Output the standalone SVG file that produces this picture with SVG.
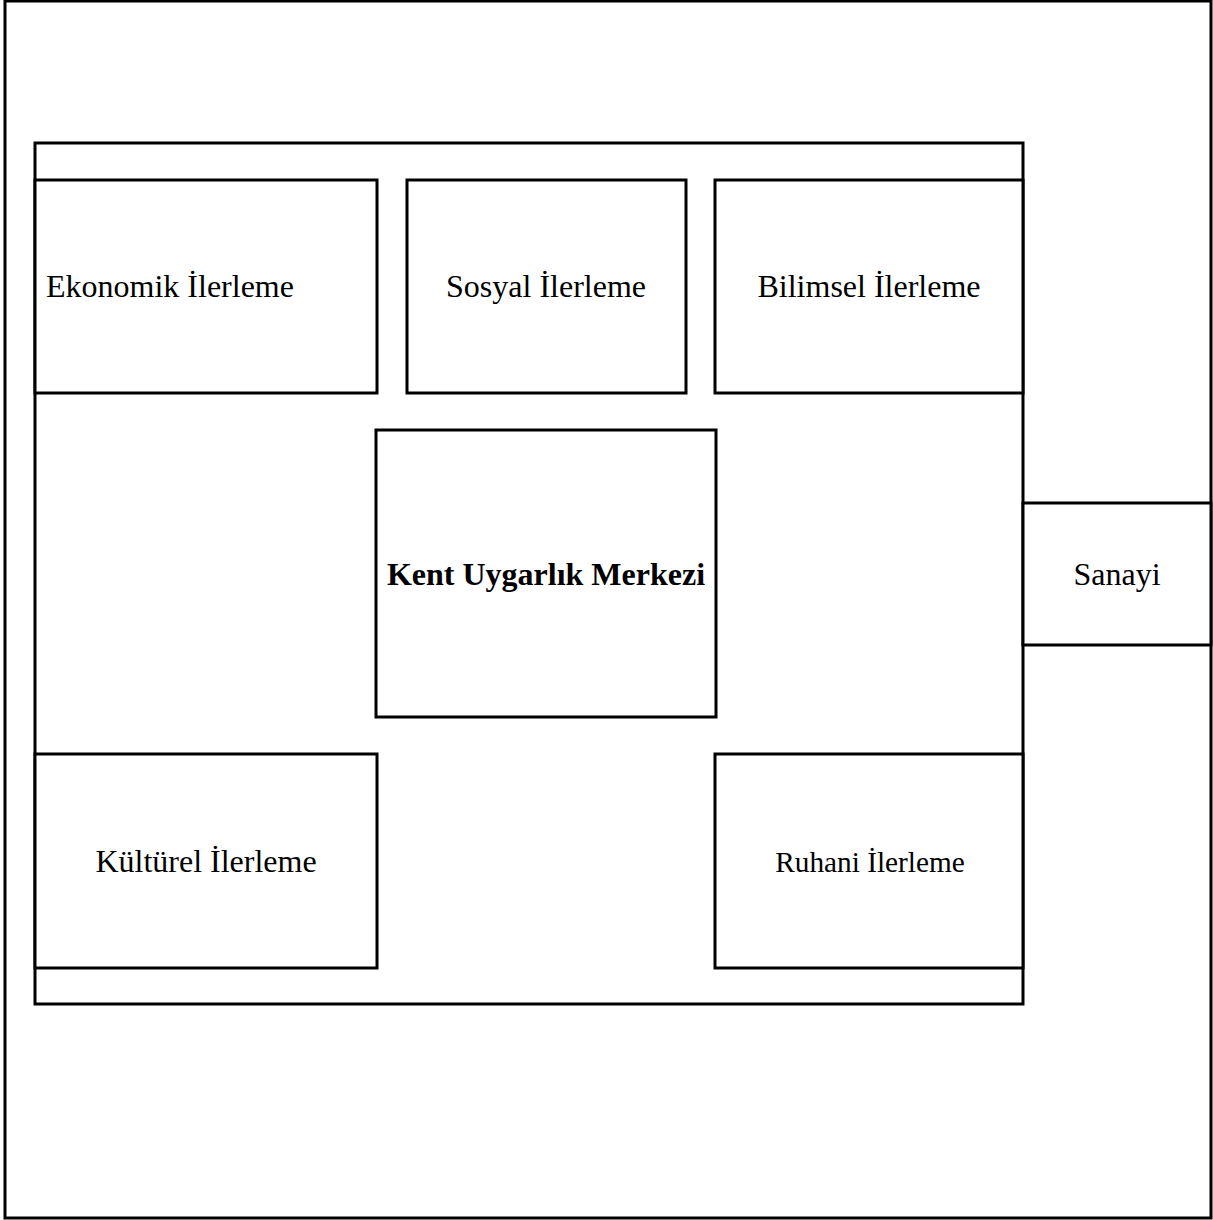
<svg xmlns="http://www.w3.org/2000/svg" width="1213" height="1220" viewBox="0 0 1213 1220">
<style>
.b{fill:#fff;stroke:#000;stroke-width:3}
.f{fill:none;stroke:#000;stroke-width:3}
text{font-family:"Liberation Serif","Times New Roman",serif;font-size:32px;fill:#000}
.c{text-anchor:middle}
</style>
<rect width="1213" height="1220" fill="#fff"/>
<g id="outer"><rect class="f" x="5" y="1" width="1206" height="1217"/></g>
<g id="inner"><rect class="f" x="35" y="143" width="988" height="861"/></g>
<g id="connectors"></g>
<g id="ekonomik"><rect class="b" x="35" y="180" width="342" height="213"/><text x="46" y="297">Ekonomik İlerleme</text></g>
<g id="sosyal"><rect class="b" x="407" y="180" width="279" height="213"/><text class="c" x="546" y="297">Sosyal İlerleme</text></g>
<g id="bilimsel"><rect class="b" x="715" y="180" width="308" height="213"/><text class="c" x="869" y="297">Bilimsel İlerleme</text></g>
<g id="merkez"><rect class="b" x="376" y="430" width="340" height="287"/><text class="c" x="546" y="585" font-weight="bold">Kent Uygarlık Merkezi</text></g>
<g id="sanayi"><rect class="b" x="1023" y="503" width="188" height="142"/><text class="c" x="1117" y="585">Sanayi</text></g>
<g id="kulturel"><rect class="b" x="35" y="754" width="342" height="214"/><text class="c" x="206" y="872">Kültürel İlerleme</text></g>
<g id="ruhani"><rect class="b" x="715" y="754" width="308" height="214"/><text class="c" x="870" y="872" style="font-size:29.3px">Ruhani İlerleme</text></g>
</svg>
